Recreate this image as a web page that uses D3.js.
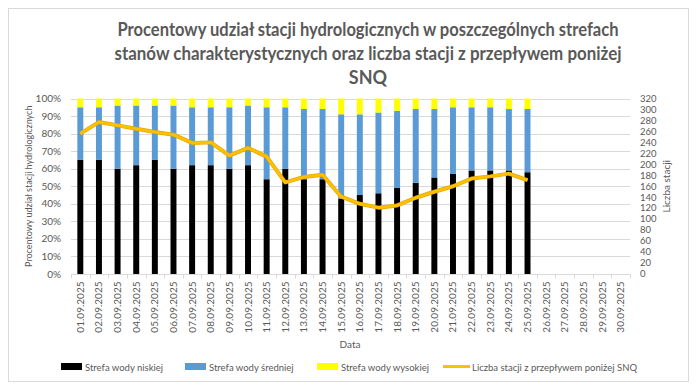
<!DOCTYPE html>
<html>
<head>
<meta charset="utf-8">
<script src="https://cdn.jsdelivr.net/npm/d3@7"></script>
<style>
  body { margin: 0; background: #fff; }
  text { font-family: Lato, "Open Sans", sans-serif; }
</style>
</head>
<body>
<svg id="chart" width="696" height="388"></svg>
<script>
const dates = d3.range(1, 31).map((d) => `${String(d).padStart(2, "0")}.09.2025`);
// percent shares per day (only first 25 days have data)
const lowZone = [65, 65, 60, 62, 65, 60, 62, 62, 60, 62, 54, 60, 54, 54, 43, 45, 46, 49, 52, 55, 57, 59, 59, 59, 58];
const midZone = [30, 30, 36, 34, 31, 36, 33, 33, 35, 34, 41, 35, 40, 40, 48, 46, 46, 44, 42, 39, 38, 36, 36, 35, 36];
const highZone = [5, 5, 4, 4, 4, 4, 5, 5, 5, 4, 5, 5, 6, 6, 9, 9, 8, 7, 6, 6, 5, 5, 5, 6, 6];
const belowSnq = [256, 277, 271, 265, 259, 254, 239, 240, 216, 230, 214, 167, 177, 181, 141, 128, 121, 125, 139, 150, 160, 174, 178, 183, 171];
const leftTicks = d3.range(0, 101, 10);
const rightTicks = d3.range(0, 321, 20);
const titleLines = [
  "Procentowy udział stacji hydrologicznych w poszczególnych strefach",
  "stanów charakterystycznych oraz liczba stacji z przepływem poniżej",
  "SNQ",
];
const titleWidths = [501, 507, null];

const zones = [
  { id: "low", label: "Strefa wody niskiej", color: "#000000", values: lowZone },
  { id: "mid", label: "Strefa wody średniej", color: "#5B9BD5", values: midZone },
  { id: "high", label: "Strefa wody wysokiej", color: "#FFFF00", values: highZone },
];

const textColor = "#595959";
const gridColor = "#d9d9d9";
const lineColor = "#FFC000";

const svg = d3.select("#chart");

// chart border
svg.append("rect")
  .attr("x", 8.5).attr("y", 8.5)
  .attr("width", 680).attr("height", 373)
  .attr("fill", "#fff")
  .attr("stroke", "#d9d9d9");

const plot = { left: 71, right: 630, top: 98.5, bottom: 274 };

const xScale = d3.scaleBand()
  .domain(dates)
  .range([plot.left, plot.right])
  .paddingInner(0.68)
  .paddingOuter(0.34);
const xBand = d3.scaleBand().domain(dates).range([plot.left, plot.right]);

const yScale = d3.scaleLinear().domain([0, 100]).range([plot.bottom, plot.top]);
const y2Scale = d3.scaleLinear().domain([0, 320]).range([plot.bottom, plot.top]);

// gridlines
svg.append("g")
  .selectAll("line")
  .data(leftTicks.slice(1))
  .join("line")
  .attr("x1", plot.left).attr("x2", plot.right)
  .attr("y1", (d) => Math.round(yScale(d)) + 0.5)
  .attr("y2", (d) => Math.round(yScale(d)) + 0.5)
  .attr("stroke", gridColor);

// stacked bars
const rows = lowZone.map((d, i) => ({
  date: dates[i], low: lowZone[i], mid: midZone[i], high: highZone[i],
}));
const stacked = d3.stack().keys(zones.map((z) => z.id))(rows);

svg.append("g")
  .selectAll("g")
  .data(stacked)
  .join("g")
  .attr("fill", (s, i) => zones[i].color)
  .selectAll("rect")
  .data((s) => s)
  .join("rect")
  .attr("x", (d) => xScale(d.data.date))
  .attr("width", xScale.bandwidth())
  .attr("y", (d) => yScale(d[1]))
  .attr("height", (d) => yScale(d[0]) - yScale(d[1]));

// x axis line + ticks
const xAxis = svg.append("g").attr("transform", `translate(0, ${plot.bottom + 0.5})`);
xAxis.append("line")
  .attr("x1", plot.left).attr("x2", plot.right)
  .attr("stroke", gridColor);
xAxis.selectAll(".tick")
  .data(dates.concat(["end"]))
  .join("line")
  .attr("x1", (d, i) => Math.round(plot.left + i * xBand.bandwidth()) + 0.5)
  .attr("x2", (d, i) => Math.round(plot.left + i * xBand.bandwidth()) + 0.5)
  .attr("y1", 0).attr("y2", 4)
  .attr("stroke", gridColor);

xAxis.selectAll("text")
  .data(dates)
  .join("text")
  .attr("transform", (d) => `translate(${xBand(d) + xBand.bandwidth() / 2 + 3.5}, 7) rotate(-90)`)
  .attr("text-anchor", "end")
  .style("font-size", "10px")
  .style("fill", textColor)
  .text((d) => d);

// left axis
svg.append("g")
  .selectAll("text")
  .data(leftTicks)
  .join("text")
  .attr("x", 61)
  .attr("y", (d) => yScale(d) + 3.5)
  .attr("text-anchor", "end")
  .style("font-size", "10px")
  .style("fill", textColor)
  .text((d) => `${d}%`);

// right axis
svg.append("g")
  .selectAll("text")
  .data(rightTicks)
  .join("text")
  .attr("x", 640)
  .attr("y", (d) => y2Scale(d) + 3.3)
  .style("font-size", "9.5px")
  .style("fill", textColor)
  .text((d) => d);

// axis titles
svg.append("text")
  .attr("transform", `translate(32, ${(plot.top + plot.bottom) / 2}) rotate(-90)`)
  .attr("text-anchor", "middle")
  .style("font-size", "9px")
  .style("fill", textColor)
  .text("Procentowy udział stacji hydrologicznych");

svg.append("text")
  .attr("transform", `translate(670, ${(plot.top + plot.bottom) / 2}) rotate(-90)`)
  .attr("text-anchor", "middle")
  .style("font-size", "10px")
  .style("fill", textColor)
  .text("Liczba stacji");

svg.append("text")
  .attr("x", 350).attr("y", 348)
  .attr("text-anchor", "middle")
  .style("font-size", "10px")
  .style("fill", textColor)
  .text("Data");

// SNQ line
const line = d3.line()
  .x((d, i) => xBand(dates[i]) + xBand.bandwidth() / 2)
  .y((d) => y2Scale(d));
svg.append("path")
  .datum(belowSnq)
  .attr("d", line)
  .attr("fill", "none")
  .attr("stroke", "#E5A800")
  .attr("stroke-width", 4)
  .attr("stroke-linejoin", "round");
svg.append("path")
  .datum(belowSnq)
  .attr("d", line)
  .attr("fill", "none")
  .attr("stroke", lineColor)
  .attr("stroke-width", 2.6)
  .attr("stroke-linejoin", "round");

// title
svg.append("g")
  .selectAll("text")
  .data(titleLines)
  .join("text")
  .attr("x", 368)
  .attr("y", (d, i) => 36 + i * 24)
  .attr("text-anchor", "middle")
  .attr("textLength", (d, i) => titleWidths[i])
  .attr("lengthAdjust", "spacingAndGlyphs")
  .style("font-size", "18px")
  .style("font-weight", 700)
  .style("fill", textColor)
  .text((d) => d);

// legend
const legendItems = [
  { label: zones[0].label, color: zones[0].color, x: 61, type: "rect" },
  { label: zones[1].label, color: zones[1].color, x: 185, type: "rect" },
  { label: zones[2].label, color: zones[2].color, x: 317, type: "rect" },
  { label: "Liczba stacji z przepływem poniżej SNQ", color: lineColor, x: 443, type: "line" },
];
const legend = svg.append("g").attr("transform", "translate(0, 367)");
legendItems.forEach((item) => {
  if (item.type === "rect") {
    legend.append("rect")
      .attr("x", item.x).attr("y", -4)
      .attr("width", 21).attr("height", 7)
      .attr("fill", item.color);
  } else {
    legend.append("line")
      .attr("x1", item.x).attr("x2", item.x + 27)
      .attr("y1", -0.5).attr("y2", -0.5)
      .attr("stroke", item.color)
      .attr("stroke-width", 3);
  }
  legend.append("text")
    .attr("x", item.x + (item.type === "rect" ? 24 : 29))
    .attr("y", 3.5)
    .style("font-size", "9.5px")
    .style("fill", textColor)
    .text(item.label);
});
</script>
</body>
</html>
